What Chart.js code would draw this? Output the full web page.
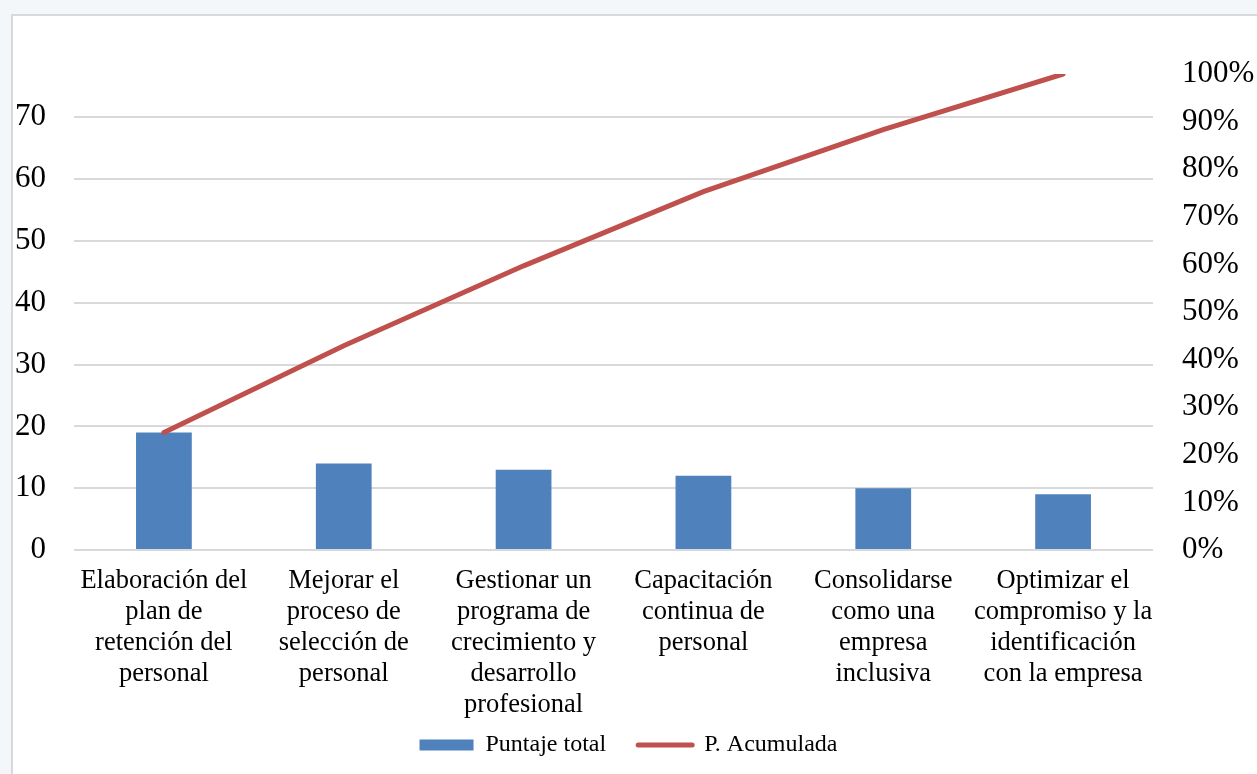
<!DOCTYPE html>
<html>
<head>
<meta charset="utf-8">
<script src="https://cdn.jsdelivr.net/npm/chart.js@4"></script>
<style>
  html, body { margin: 0; padding: 0; background: #f4f7fa; }
  #frame {
    position: absolute; left: 11px; top: 14px; width: 1260px; height: 780px;
    background: #ffffff; border-left: 2px solid #d9d9d9; border-top: 2px solid #d9d9d9;
  }
  #wrap { position: absolute; left: 0; top: 0; width: 1257px; height: 774px; }
</style>
</head>
<body>
<div id="frame"></div>
<div id="wrap"><canvas id="chart"></canvas></div>
<script>
const categories = [
    ["Elaboración del", "plan de", "retención del", "personal"],
    ["Mejorar el", "proceso de", "selección de", "personal"],
    ["Gestionar un", "programa de", "crecimiento y", "desarrollo", "profesional"],
    ["Capacitación", "continua de", "personal"],
    ["Consolidarse", "como una", "empresa", "inclusiva"],
    ["Optimizar el", "compromiso y la", "identificación", "con la empresa"]
];
const puntajeTotal = [19, 14, 13, 12, 10, 9];
const pAcumulada = [0.247, 0.429, 0.597, 0.753, 0.883, 1.0];

const serif = "'Liberation Serif', 'Times New Roman', serif";

const ctx = document.getElementById("chart").getContext("2d");

const chart = new Chart(ctx, {
    type: "bar",
    data: {
        labels: categories,
        datasets: [{
            type: "line",
            label: "P. Acumulada",
            data: pAcumulada,
            yAxisID: "y1",
            borderColor: "#c0504d",
            backgroundColor: "#c0504d",
            borderWidth: 5,
            borderCapStyle: "round",
            pointRadius: 0,
            tension: 0,
            order: 0
        }, {
            label: "Puntaje total",
            data: puntajeTotal,
            yAxisID: "y",
            backgroundColor: "#4f81bd",
            categoryPercentage: 1,
            barPercentage: 0.31,
            order: 1
        }]
    },
    options: {
        responsive: true,
        maintainAspectRatio: false,
        animation: false,
        layout: { padding: { top: 74, right: 0, left: 0, bottom: 7 } },
        plugins: {
            tooltip: { enabled: false },
            legend: {
                position: "bottom",
                reverse: true,
                labels: {
                    color: "#000",
                    font: { family: serif, size: 24 },
                    usePointStyle: true,
                    pointStyleWidth: 54,
                    boxHeight: 11,
                    padding: 8,
                    generateLabels: c => c.data.datasets.map((d, i) => ({
                        // trailing spaces widen the gap between the two items
                        text: d.type === "line" ? d.label : d.label + "    ",
                        datasetIndex: i,
                        fillStyle: d.type === "line" ? "rgba(0,0,0,0)" : d.backgroundColor,
                        strokeStyle: d.type === "line" ? d.borderColor : d.backgroundColor,
                        lineWidth: d.type === "line" ? 5 : 0,
                        lineCap: "round",
                        pointStyle: d.type === "line" ? "line" : "rect",
                        fontColor: "#000"
                    }))
                }
            }
        },
        scales: {
            x: {
                grid: { display: false },
                border: { display: false },
                ticks: {
                    color: "#000",
                    font: { family: serif, size: 26.5, lineHeight: 1.17 },
                    maxRotation: 0,
                    autoSkip: false,
                    padding: 8
                },
                afterFit: s => { s.height = 175; }
            },
            y: {
                position: "left",
                min: 0,
                max: 77,
                grid: {
                    color: c => (c.tick && c.tick.value % 10 === 0 ? "#d9d9d9" : "rgba(0,0,0,0)"),
                    lineWidth: 2,
                    drawTicks: false
                },
                border: { display: false },
                ticks: {
                    stepSize: 10,
                    color: "#000",
                    font: { family: serif, size: 31 },
                    padding: 28,
                    callback: v => (v % 10 === 0 ? v : "")
                },
                afterFit: s => { s.width = 74; }
            },
            y1: {
                position: "right",
                min: 0,
                max: 1,
                grid: { display: false, drawTicks: false },
                border: { display: false },
                ticks: {
                    stepSize: 0.1,
                    color: "#000",
                    font: { family: serif, size: 31 },
                    padding: 29,
                    callback: v => Math.round(v * 100) + "%"
                },
                afterFit: s => { s.width = 104; }
            }
        }
    }
});
</script>
</body>
</html>
